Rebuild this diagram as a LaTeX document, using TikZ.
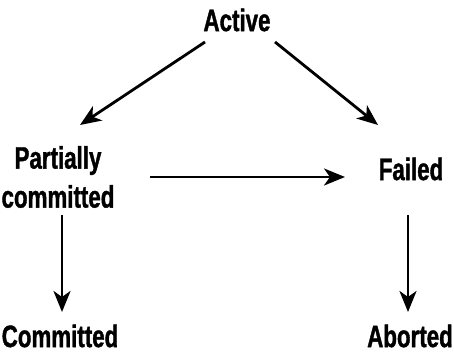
\documentclass[tikz,border=0pt]{standalone}
\usepackage{fontspec}
\setmainfont{Liberation Sans}[FakeStretch=0.72, BoldFeatures={FakeBold=1.2}]
\usetikzlibrary{arrows.meta}

\tikzset{
	state/.style={font=\bfseries\fontsize{31}{39}\selectfont, align=center, inner sep=2pt},
	trans/.style={line width=2.8pt, -{Stealth[length=21pt, width=17pt, inset=6pt]}}
}

\begin{document}
\begin{tikzpicture}[x=1pt, y=1pt]
			\useasboundingbox (0,0) rectangle (454,353);

			\node[state] (active) at (237,333) {Active};
			\node[state] (partial) at (58,176) {Partially\\committed};
			\node[state] (failed) at (411,184) {Failed};
			\node[state] (committed) at (60,17) {Committed};
			\node[state] (aborted) at (410,17) {Aborted};

			\draw[trans] ([shift={(-32,-22)}]active.center) -- ([shift={(22,52)}]partial.center);
			\draw[trans] ([shift={(38,-22)}]active.center) -- ([shift={(-33,44)}]failed.center);
			\draw[trans] ([shift={(92,0)}]partial.center) -- ([shift={(-66,-8)}]failed.center);
			\draw[trans] ([shift={(4,-38)}]partial.center) -- ([shift={(2,24)}]committed.center);
			\draw[trans] ([shift={(-3,-46)}]failed.center) -- ([shift={(-2,24)}]aborted.center);
		\end{tikzpicture}
\end{document}
